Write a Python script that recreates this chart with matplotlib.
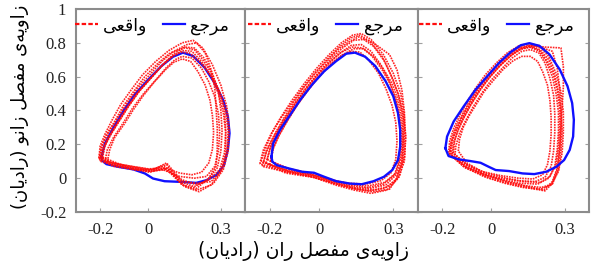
import numpy as np
import matplotlib
matplotlib.use("Agg")
import matplotlib.pyplot as plt
from matplotlib.lines import Line2D
from matplotlib import font_manager
from matplotlib.ft2font import FT2Font

# ---- data (hip angle x, knee angle y, radians) ----

x_ticks = [-0.2, 0, 0.3]
x_tick_labels = ["-0.2", "0", "0.3"]
y_ticks = [-0.2, 0, 0.2, 0.4, 0.6, 0.8, 1]
y_tick_labels = ["-0.2", "0", "0.2", "0.4", "0.6", "0.8", "1"]

# panel 1 : reference (blue) loop and measured (red) cycles
p1_ref = [(-0.194, 0.127), (-0.18, 0.206), (-0.146, 0.296), (-0.105, 0.395), (-0.057, 0.494),
          (0.0, 0.583), (0.054, 0.663), (0.102, 0.718), (0.143, 0.742), (0.185, 0.722),
          (0.233, 0.653), (0.274, 0.563), (0.309, 0.464), (0.329, 0.365), (0.336, 0.266),
          (0.329, 0.167), (0.313, 0.077), (0.281, 0.018), (0.24, -0.012), (0.198, -0.028),
          (0.136, -0.022), (0.067, -0.018), (0.019, -0.002), (-0.015, 0.028), (-0.063, 0.052),
          (-0.125, 0.067), (-0.174, 0.083), (-0.191, 0.103)]
p1_real = [
    [(-0.195, 0.11), (-0.185, 0.18), (-0.16, 0.25), (-0.125, 0.33), (-0.085, 0.42), (-0.04, 0.51), (0.01, 0.59), (0.06, 0.67), (0.10, 0.72), (0.14, 0.755), (0.18, 0.75), (0.22, 0.69), (0.26, 0.60), (0.29, 0.50), (0.31, 0.39), (0.32, 0.27), (0.315, 0.15), (0.295, 0.05), (0.25, -0.01), (0.20, -0.04), (0.14, -0.01), (0.07, 0.05), (0.0, 0.04), (-0.08, 0.06), (-0.15, 0.08)],
    [(-0.205, 0.12), (-0.20, 0.19), (-0.18, 0.26), (-0.15, 0.345), (-0.115, 0.435), (-0.07, 0.525), (-0.025, 0.61), (0.03, 0.69), (0.085, 0.755), (0.14, 0.80), (0.185, 0.815), (0.225, 0.77), (0.265, 0.67), (0.30, 0.55), (0.325, 0.42), (0.335, 0.29), (0.33, 0.16), (0.31, 0.05), (0.27, -0.03), (0.21, -0.08), (0.15, -0.05), (0.075, 0.08), (0.01, 0.05), (-0.07, 0.07), (-0.15, 0.09)],
    [(-0.17, 0.10), (-0.16, 0.17), (-0.14, 0.24), (-0.10, 0.32), (-0.06, 0.41), (-0.02, 0.49), (0.025, 0.57), (0.07, 0.64), (0.105, 0.685), (0.14, 0.705), (0.175, 0.69), (0.205, 0.63), (0.235, 0.55), (0.255, 0.46), (0.265, 0.37), (0.27, 0.27), (0.265, 0.17), (0.25, 0.09), (0.22, 0.035), (0.18, 0.02), (0.13, 0.03), (0.07, 0.06), (0.0, 0.055), (-0.07, 0.07), (-0.13, 0.085)],
    [(-0.19, 0.12), (-0.18, 0.19), (-0.155, 0.26), (-0.12, 0.34), (-0.08, 0.43), (-0.035, 0.52), (0.015, 0.60), (0.065, 0.68), (0.105, 0.735), (0.15, 0.775), (0.19, 0.77), (0.23, 0.71), (0.265, 0.62), (0.29, 0.51), (0.30, 0.40), (0.305, 0.28), (0.30, 0.16), (0.285, 0.06), (0.245, -0.01), (0.19, -0.05), (0.13, -0.02), (0.065, 0.07), (0.0, 0.045), (-0.08, 0.065), (-0.15, 0.085)],
    [(-0.20, 0.10), (-0.19, 0.17), (-0.165, 0.245), (-0.13, 0.325), (-0.09, 0.415), (-0.045, 0.505), (0.005, 0.585), (0.055, 0.665), (0.10, 0.72), (0.135, 0.745), (0.17, 0.74), (0.215, 0.685), (0.26, 0.605), (0.295, 0.51), (0.32, 0.40), (0.33, 0.28), (0.325, 0.15), (0.305, 0.05), (0.26, -0.02), (0.205, -0.03), (0.14, -0.02), (0.075, 0.09), (0.02, 0.05), (-0.06, 0.05), (-0.14, 0.075)],
    [(-0.20, 0.13), (-0.19, 0.20), (-0.165, 0.27), (-0.13, 0.35), (-0.09, 0.44), (-0.045, 0.53), (0.005, 0.61), (0.055, 0.69), (0.105, 0.75), (0.16, 0.79), (0.20, 0.80), (0.235, 0.74), (0.26, 0.64), (0.275, 0.53), (0.28, 0.42), (0.285, 0.30), (0.285, 0.17), (0.28, 0.07), (0.25, 0.0), (0.20, -0.06), (0.14, -0.04), (0.08, 0.06), (0.01, 0.04), (-0.07, 0.055), (-0.14, 0.095)],
    [(-0.18, 0.10), (-0.17, 0.17), (-0.145, 0.24), (-0.105, 0.325), (-0.065, 0.415), (-0.02, 0.50), (0.03, 0.58), (0.075, 0.655), (0.11, 0.70), (0.14, 0.72), (0.18, 0.71), (0.22, 0.65), (0.25, 0.57), (0.275, 0.48), (0.29, 0.38), (0.295, 0.27), (0.29, 0.16), (0.275, 0.07), (0.24, 0.01), (0.19, 0.0), (0.13, 0.01), (0.06, 0.05), (-0.01, 0.05), (-0.09, 0.07), (-0.15, 0.09)],
    [(-0.205, 0.115), (-0.195, 0.185), (-0.175, 0.255), (-0.14, 0.335), (-0.105, 0.425), (-0.06, 0.515), (-0.015, 0.60), (0.04, 0.68), (0.09, 0.74), (0.15, 0.77), (0.19, 0.76), (0.225, 0.70), (0.265, 0.61), (0.295, 0.51), (0.315, 0.40), (0.32, 0.28), (0.32, 0.15), (0.30, 0.04), (0.26, -0.04), (0.20, -0.07), (0.14, -0.04), (0.07, 0.06), (0.005, 0.035), (-0.075, 0.055), (-0.145, 0.07)],
]

# panel 2
p2_ref = [(-0.193, 0.127), (-0.186, 0.206), (-0.158, 0.286), (-0.117, 0.375), (-0.076, 0.464),
          (-0.028, 0.554), (0.021, 0.633), (0.069, 0.692), (0.110, 0.736), (0.145, 0.742),
          (0.186, 0.718), (0.227, 0.663), (0.269, 0.573), (0.30, 0.484), (0.319, 0.385),
          (0.328, 0.286), (0.328, 0.186), (0.319, 0.107), (0.296, 0.048), (0.262, 0.008),
          (0.220, -0.018), (0.172, -0.036), (0.124, -0.032), (0.069, -0.018), (0.021, 0.008),
          (-0.021, 0.032), (-0.069, 0.038), (-0.124, 0.058), (-0.172, 0.077), (-0.189, 0.097)]
p2_real = [
    [(-0.215, 0.09), (-0.20, 0.17), (-0.175, 0.25), (-0.14, 0.34), (-0.10, 0.43), (-0.055, 0.52), (-0.01, 0.60), (0.04, 0.68), (0.085, 0.74), (0.13, 0.785), (0.17, 0.79), (0.21, 0.75), (0.25, 0.67), (0.285, 0.57), (0.31, 0.46), (0.325, 0.35), (0.33, 0.23), (0.325, 0.11), (0.305, 0.02), (0.26, -0.035), (0.20, -0.055), (0.13, -0.045), (0.06, -0.02), (-0.03, 0.02), (-0.13, 0.045)],
    [(-0.24, 0.085), (-0.225, 0.17), (-0.195, 0.26), (-0.155, 0.36), (-0.11, 0.46), (-0.06, 0.56), (-0.01, 0.65), (0.04, 0.73), (0.09, 0.80), (0.135, 0.845), (0.17, 0.855), (0.21, 0.82), (0.26, 0.73), (0.30, 0.62), (0.33, 0.50), (0.345, 0.37), (0.35, 0.24), (0.345, 0.10), (0.32, 0.0), (0.275, -0.07), (0.21, -0.09), (0.14, -0.07), (0.065, -0.04), (-0.03, 0.01), (-0.14, 0.04)],
    [(-0.195, 0.10), (-0.185, 0.18), (-0.16, 0.26), (-0.125, 0.35), (-0.085, 0.44), (-0.04, 0.53), (0.005, 0.61), (0.05, 0.68), (0.09, 0.725), (0.13, 0.75), (0.165, 0.745), (0.20, 0.70), (0.24, 0.62), (0.27, 0.53), (0.295, 0.43), (0.31, 0.33), (0.315, 0.22), (0.31, 0.11), (0.29, 0.03), (0.25, -0.015), (0.19, -0.035), (0.12, -0.03), (0.05, -0.01), (-0.04, 0.025), (-0.135, 0.055)],
    [(-0.23, 0.07), (-0.215, 0.15), (-0.185, 0.24), (-0.145, 0.34), (-0.10, 0.44), (-0.05, 0.54), (0.0, 0.63), (0.05, 0.71), (0.095, 0.77), (0.14, 0.815), (0.18, 0.82), (0.22, 0.78), (0.265, 0.69), (0.30, 0.58), (0.325, 0.47), (0.34, 0.35), (0.34, 0.22), (0.335, 0.09), (0.31, -0.01), (0.265, -0.06), (0.20, -0.075), (0.13, -0.06), (0.06, -0.03), (-0.03, 0.01), (-0.13, 0.035)],
    [(-0.21, 0.11), (-0.195, 0.19), (-0.17, 0.27), (-0.135, 0.355), (-0.095, 0.445), (-0.05, 0.535), (-0.005, 0.615), (0.045, 0.69), (0.09, 0.745), (0.135, 0.775), (0.175, 0.77), (0.215, 0.72), (0.255, 0.64), (0.29, 0.55), (0.315, 0.45), (0.33, 0.34), (0.335, 0.23), (0.33, 0.12), (0.31, 0.03), (0.265, -0.025), (0.20, -0.045), (0.135, -0.04), (0.065, -0.015), (-0.02, 0.025), (-0.12, 0.055)],
    [(-0.225, 0.095), (-0.21, 0.175), (-0.18, 0.26), (-0.145, 0.35), (-0.105, 0.445), (-0.06, 0.54), (-0.015, 0.625), (0.035, 0.70), (0.08, 0.765), (0.125, 0.81), (0.16, 0.835), (0.22, 0.80), (0.285, 0.73), (0.315, 0.64), (0.335, 0.52), (0.345, 0.39), (0.345, 0.25), (0.34, 0.11), (0.315, 0.0), (0.285, -0.065), (0.22, -0.08), (0.15, -0.065), (0.075, -0.035), (-0.02, 0.005), (-0.13, 0.04)],
    [(-0.20, 0.08), (-0.19, 0.16), (-0.165, 0.245), (-0.13, 0.335), (-0.09, 0.43), (-0.045, 0.52), (0.0, 0.60), (0.05, 0.675), (0.095, 0.73), (0.14, 0.765), (0.18, 0.765), (0.22, 0.72), (0.26, 0.645), (0.295, 0.56), (0.32, 0.46), (0.335, 0.35), (0.34, 0.235), (0.335, 0.115), (0.315, 0.025), (0.27, -0.04), (0.21, -0.06), (0.14, -0.055), (0.07, -0.025), (-0.02, 0.015), (-0.12, 0.04)],
    [(-0.235, 0.10), (-0.215, 0.185), (-0.19, 0.27), (-0.15, 0.365), (-0.105, 0.455), (-0.06, 0.545), (-0.01, 0.63), (0.04, 0.715), (0.085, 0.78), (0.13, 0.83), (0.165, 0.845), (0.205, 0.81), (0.255, 0.72), (0.29, 0.61), (0.32, 0.50), (0.34, 0.38), (0.35, 0.25), (0.345, 0.12), (0.325, 0.01), (0.28, -0.05), (0.22, -0.07), (0.15, -0.06), (0.07, -0.035), (-0.025, 0.005), (-0.135, 0.03)],
]

# panel 3
p3_ref = [(-0.188, 0.177), (-0.181, 0.246), (-0.154, 0.335), (-0.113, 0.424), (-0.064, 0.524),
          (-0.016, 0.603), (0.032, 0.682), (0.080, 0.746), (0.121, 0.786), (0.156, 0.798),
          (0.197, 0.782), (0.238, 0.732), (0.280, 0.643), (0.312, 0.544), (0.331, 0.444),
          (0.338, 0.345), (0.335, 0.246), (0.321, 0.167), (0.298, 0.107), (0.266, 0.067),
          (0.225, 0.038), (0.176, 0.024), (0.128, 0.028), (0.073, 0.042), (0.018, 0.048),
          (-0.010, 0.067), (-0.044, 0.091), (-0.085, 0.101), (-0.133, 0.111), (-0.175, 0.131)]
p3_real = [
    [(-0.165, 0.14), (-0.16, 0.21), (-0.145, 0.28), (-0.12, 0.355), (-0.09, 0.43), (-0.055, 0.51), (-0.015, 0.59), (0.03, 0.66), (0.075, 0.72), (0.115, 0.76), (0.155, 0.775), (0.195, 0.755), (0.225, 0.69), (0.25, 0.60), (0.265, 0.50), (0.275, 0.39), (0.275, 0.28), (0.27, 0.17), (0.26, 0.07), (0.235, 0.0), (0.19, -0.035), (0.12, -0.03), (0.05, -0.01), (-0.03, 0.02), (-0.11, 0.07)],
    [(-0.175, 0.15), (-0.17, 0.22), (-0.155, 0.29), (-0.13, 0.37), (-0.10, 0.45), (-0.065, 0.53), (-0.025, 0.61), (0.02, 0.68), (0.065, 0.74), (0.11, 0.78), (0.15, 0.795), (0.195, 0.785), (0.235, 0.72), (0.265, 0.62), (0.285, 0.51), (0.295, 0.39), (0.295, 0.27), (0.29, 0.15), (0.275, 0.04), (0.245, -0.04), (0.20, -0.065), (0.13, -0.055), (0.055, -0.03), (-0.03, 0.01), (-0.115, 0.07)],
    [(-0.135, 0.16), (-0.13, 0.23), (-0.115, 0.30), (-0.09, 0.37), (-0.06, 0.44), (-0.03, 0.51), (0.01, 0.58), (0.05, 0.645), (0.09, 0.695), (0.125, 0.72), (0.16, 0.72), (0.19, 0.69), (0.21, 0.63), (0.23, 0.55), (0.24, 0.46), (0.245, 0.36), (0.245, 0.26), (0.24, 0.16), (0.23, 0.08), (0.21, 0.02), (0.17, -0.005), (0.11, 0.0), (0.04, 0.015), (-0.04, 0.04), (-0.10, 0.09)],
    [(-0.16, 0.13), (-0.155, 0.20), (-0.14, 0.27), (-0.115, 0.35), (-0.085, 0.43), (-0.05, 0.51), (-0.01, 0.59), (0.035, 0.665), (0.08, 0.725), (0.12, 0.765), (0.16, 0.785), (0.21, 0.77), (0.25, 0.75), (0.27, 0.65), (0.28, 0.53), (0.285, 0.41), (0.285, 0.29), (0.28, 0.17), (0.27, 0.06), (0.25, -0.02), (0.215, -0.07), (0.15, -0.05), (0.07, -0.025), (-0.02, 0.015), (-0.10, 0.065)],
    [(-0.15, 0.12), (-0.145, 0.19), (-0.13, 0.265), (-0.105, 0.34), (-0.075, 0.42), (-0.04, 0.50), (0.0, 0.58), (0.045, 0.65), (0.085, 0.71), (0.125, 0.75), (0.16, 0.76), (0.195, 0.74), (0.22, 0.68), (0.24, 0.59), (0.255, 0.49), (0.26, 0.38), (0.26, 0.27), (0.255, 0.16), (0.245, 0.07), (0.22, 0.005), (0.18, -0.02), (0.11, -0.015), (0.04, 0.0), (-0.04, 0.03), (-0.10, 0.075)],
    [(-0.17, 0.14), (-0.165, 0.21), (-0.15, 0.285), (-0.125, 0.36), (-0.095, 0.44), (-0.06, 0.52), (-0.02, 0.60), (0.025, 0.67), (0.07, 0.73), (0.11, 0.77), (0.15, 0.785), (0.22, 0.775), (0.285, 0.77), (0.295, 0.66), (0.295, 0.54), (0.29, 0.42), (0.285, 0.30), (0.28, 0.17), (0.27, 0.05), (0.25, -0.03), (0.22, -0.075), (0.16, -0.06), (0.08, -0.035), (-0.01, 0.0), (-0.105, 0.06)],
    [(-0.155, 0.15), (-0.15, 0.22), (-0.135, 0.29), (-0.11, 0.365), (-0.08, 0.445), (-0.045, 0.525), (-0.005, 0.60), (0.04, 0.67), (0.085, 0.73), (0.125, 0.765), (0.165, 0.775), (0.20, 0.75), (0.23, 0.69), (0.255, 0.61), (0.27, 0.52), (0.28, 0.41), (0.28, 0.30), (0.275, 0.18), (0.265, 0.08), (0.24, 0.01), (0.20, -0.025), (0.13, -0.02), (0.06, 0.0), (-0.02, 0.03), (-0.10, 0.08)],
    [(-0.17, 0.16), (-0.16, 0.23), (-0.14, 0.30), (-0.115, 0.375), (-0.085, 0.455), (-0.05, 0.535), (-0.01, 0.61), (0.035, 0.68), (0.08, 0.735), (0.12, 0.77), (0.16, 0.78), (0.20, 0.76), (0.235, 0.70), (0.26, 0.61), (0.275, 0.51), (0.285, 0.40), (0.29, 0.28), (0.285, 0.16), (0.275, 0.05), (0.25, -0.035), (0.205, -0.055), (0.14, -0.045), (0.065, -0.02), (-0.02, 0.02), (-0.105, 0.085)],
]

label_ref = "مرجع"
label_real = "واقعی"


# -------- tiny Persian shaper (no arabic_reshaper here) --------

_dv = FT2Font(font_manager.findfont("DejaVu Sans"))
if _dv.get_char_index(0xFBFC):
    _yeh = ("\uFBFC", "\uFBFD", "\uFBFE", "\uFBFF")
else:
    _yeh = ("\uFEEF", "\uFEF0", "\uFEF3", "\uFEF4")

FORMS = {
    "ا": ("\uFE8D", "\uFE8E", None, None),
    "د": ("\uFEA9", "\uFEAA", None, None),
    "ر": ("\uFEAD", "\uFEAE", None, None),
    "ز": ("\uFEAF", "\uFEB0", None, None),
    "و": ("\uFEED", "\uFEEE", None, None),
    "ج": ("\uFE9D", "\uFE9E", "\uFE9F", "\uFEA0"),
    "ص": ("\uFEB9", "\uFEBA", "\uFEBB", "\uFEBC"),
    "ع": ("\uFEC9", "\uFECA", "\uFECB", "\uFECC"),
    "ف": ("\uFED1", "\uFED2", "\uFED3", "\uFED4"),
    "ق": ("\uFED5", "\uFED6", "\uFED7", "\uFED8"),
    "ل": ("\uFEDD", "\uFEDE", "\uFEDF", "\uFEE0"),
    "م": ("\uFEE1", "\uFEE2", "\uFEE3", "\uFEE4"),
    "ن": ("\uFEE5", "\uFEE6", "\uFEE7", "\uFEE8"),
    "ه": ("\uFEE9", "\uFEEA", "\uFEEB", "\uFEEC"),
    "ی": _yeh,
}


def shape(word):
    # word in visual (left-to-right) order
    out = []
    for i, ch in enumerate(word):
        if ch not in FORMS:
            if ch != "\u200c":
                out.append(ch)
            continue
        prev = word[i - 1] if i > 0 else ""
        nxt = word[i + 1] if i + 1 < len(word) else ""
        join_prev = prev in FORMS and FORMS[prev][2] is not None
        join_next = nxt in FORMS and FORMS[ch][2] is not None
        iso, fin, ini, med = FORMS[ch]
        if join_prev and join_next:
            out.append(med)
        elif join_prev:
            out.append(fin)
        elif join_next:
            out.append(ini)
        else:
            out.append(iso)
    return "".join(reversed(out))


def rtl(words):
    return " ".join(reversed(words))


radian = "(" + shape("رادیان") + ")"
xlabel_txt = rtl([shape("زاویه\u200cی"), shape("مفصل"), shape("ران"), radian])
ylabel_txt = rtl([shape("زاویه\u200cی"), shape("مفصل"), shape("زانو"), radian])


# -------- figure --------

fig = plt.figure(figsize=(5.92, 2.71), dpi=100)
boxes = [(76, 169), (245, 173), (418, 171)]
panels = [(p1_ref, p1_real), (p2_ref, p2_real), (p3_ref, p3_real)]

for k, ((left, width), (ref, real)) in enumerate(zip(boxes, panels)):
    ax = fig.add_axes([left / 592, 1 - 212 / 271, width / 592, 203 / 271])
    for loop in real:
        xs, ys = zip(*(loop + loop[:1]))
        ax.plot(xs, ys, color="#ff0d0d", lw=1.2, ls=(0, (1.0, 0.6)), alpha=0.9, zorder=2)
    rx, ry = zip(*(ref + ref[:1]))
    ax.plot(rx, ry, color="#1010ff", lw=1.7, zorder=1 if k == 0 else 3)

    ax.set_xlim(-0.3, 0.4)
    ax.set_ylim(-0.2, 1.0)
    ax.set_xticks(x_ticks)
    ax.set_xticklabels(x_tick_labels)
    ax.set_yticks(y_ticks)
    if k == 0:
        ax.set_yticklabels(y_tick_labels)
    else:
        ax.set_yticklabels([])
    ax.tick_params(direction="in", length=3, color="#a0a0a0", right=True, labelsize=12, pad=7)
    for lab in ax.get_xticklabels() + ax.get_yticklabels():
        lab.set_family("Liberation Serif")
        lab.set_color("#222222")
    for sp in ax.spines.values():
        sp.set_color("#8c8c8c")
        sp.set_linewidth(1.5)

    handles = [Line2D([], [], color="#ff0d0d", lw=1.6, ls=(0, (2, 1))),
               Line2D([], [], color="#1010ff", lw=1.6)]
    ax.legend(handles, [shape(label_real), shape(label_ref)], ncol=2, frameon=False,
              loc="upper right", bbox_to_anchor=(1.0, 1.04), handlelength=1.3,
              handletextpad=0.3, columnspacing=0.9,
              prop={"family": "DejaVu Sans", "size": 12.5})

fig.text(303 / 592, 1 - 251 / 271, xlabel_txt, ha="center", va="center",
         fontsize=13.5, family="DejaVu Sans")
fig.text(20 / 592, 1 - 107 / 271, ylabel_txt, ha="center", va="center",
         rotation=90, fontsize=13, family="DejaVu Sans")

fig.savefig("out.png", dpi=100)
